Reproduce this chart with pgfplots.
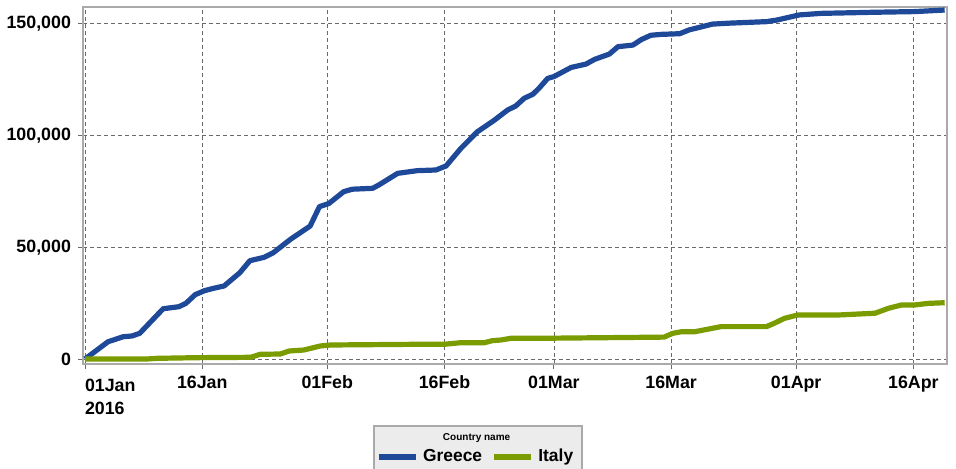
\documentclass[border=0pt]{standalone}
\usepackage{fontspec}
\setmainfont{Liberation Sans}
\usepackage{pgfplots}
\pgfplotsset{compat=1.18}
\usetikzlibrary{backgrounds}

\definecolor{greeceblue}{RGB}{30,72,152}
\definecolor{italygreen}{RGB}{122,156,0}
\definecolor{framegray}{RGB}{170,170,170}
\definecolor{gridgray}{RGB}{105,105,105}
\definecolor{legfill}{RGB}{236,236,236}

\begin{document}
\begin{tikzpicture}
\begin{axis}[
  scale only axis, width=432pt, height=178.5pt,
  xmin=-0.26, xmax=110.3, ymin=-2240, ymax=157550,
  axis line style={framegray, line width=1pt},
  tick align=outside, tick pos=left, major tick length=2.5pt,
  tick style={gridgray, line width=0.5pt},
  grid=major,
  grid style={gridgray, line width=0.4pt, dash pattern=on 2pt off 1.5pt},
  xtick={0,15,31,46,60,75,91,106},
  xticklabels={\makebox[0pt][l]{\begin{tabular}[t]{@{}l@{}}01Jan\\2016\end{tabular}},16Jan,01Feb,16Feb,01Mar,16Mar,01Apr,16Apr},
  ytick={0,50000,100000,150000},
  scaled y ticks=false,
  /pgf/number format/fixed,
  /pgf/number format/1000 sep={,},
  /pgf/number format/assume math mode=true,
  tick label style={font=\fontsize{8.9}{11.3}\selectfont\bfseries},
  legend columns=2,
  legend style={at={(axis description cs:0.4555,0)}, anchor=center, yshift=-46.5pt,
    draw=none, fill=none, inner sep=0pt,
    font=\fontsize{8.7}{10}\selectfont\bfseries,
    /tikz/every odd column/.append style={column sep=0.5pt},
    /tikz/every even column/.append style={column sep=2.5pt}},
  legend image code/.code={\draw[#1] (0pt,0pt) -- (18.5pt,0pt);},
]
% Greece
\addplot[greeceblue, line width=2.6pt, line join=round] coordinates {
(0,0)(2.95,7740)(4.9,9980)(6.0,10300)(7.0,11500)(10.0,22500)(12.0,23400)
(12.9,24900)(14.1,28800)(15.3,30600)(16.4,31600)(17.8,32700)(19.8,38600)
(21.1,44000)(22.9,45500)(24.1,47600)(26.3,53600)(28.8,59500)(30.0,68200)
(31.2,69600)(33.1,74900)(34.2,76000)(36.8,76400)(37.6,77900)(40.0,83100)
(42.5,84300)(44.9,84600)(46.2,86400)(48.1,94300)(50.2,101700)(52.3,106700)
(54.1,111500)(55.1,113200)(56.2,116700)(57.3,118500)(58.1,121200)(59.2,125600)
(60.0,126400)(62.2,130500)(64.1,132000)(65.2,134100)(67.1,136500)(68.2,139800)
(70.1,140500)(71.2,143000)(72.4,144900)(73.7,145300)(76.1,145600)(77.3,147300)
(80.3,149900)(82.3,150300)(87.2,151000)(88.5,151700)(91.4,154000)(94.2,154700)
(101.1,155200)(106.2,155500)(110.0,156200)
};
\addlegendentry{Greece}
% Italy
\addplot[italygreen, line width=2.6pt, line join=round] coordinates {
(0,0)(7.9,0)(9.2,300)(14.3,600)(21.2,760)(22.4,2100)(25.0,2240)(26.1,3580)
(28.0,4030)(30.1,5820)(31.4,6270)(42.1,6580)(45.9,6580)(48.1,7300)(51.1,7300)
(52.1,8200)(53.2,8500)(54.5,9270)(58.3,9270)(74.1,9800)(75.2,11500)(76.3,12200)
(78.0,12200)(81.4,14500)(87.2,14500)(88.2,16000)(89.5,18200)(91.2,19700)
(96.4,19700)(101.1,20500)(102.8,22700)(104.5,24200)(106.2,24200)(107.9,24900)
(110.0,25200)
};
\addlegendentry{Italy}
\end{axis}
\node[font=\fontsize{5}{6}\selectfont\bfseries, inner sep=0pt] at (196.8pt,-37pt) {Country name};
\begin{scope}[on background layer]
\path[fill=legfill, draw=framegray, line width=0.7pt] (145.4pt,-31pt) rectangle (249.4pt,-55pt);
\end{scope}
\pgfresetboundingbox
\path[use as bounding box] (-41.5pt,-52pt) rectangle (436.5pt,182pt);
\end{tikzpicture}
\end{document}
